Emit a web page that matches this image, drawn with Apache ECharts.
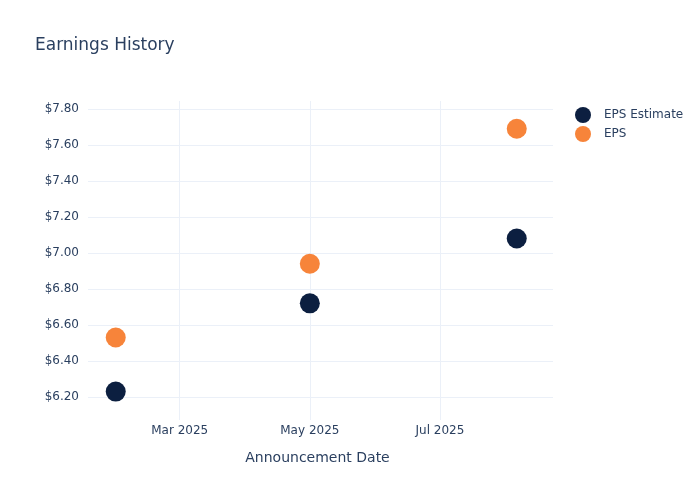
<!DOCTYPE html>
<html>
<head>
<meta charset="utf-8">
<script src="https://cdn.jsdelivr.net/npm/echarts@6/dist/echarts.min.js"></script>
<style>html,body{margin:0;padding:0;background:#fff}#c{width:700px;height:500px}</style>
</head>
<body>
<div id="c"></div>
<script>
const dates = ['2025-01-30', '2025-05-01', '2025-08-06'];
const epsEstimate = [6.23, 6.72, 7.08];
const eps = [6.53, 6.94, 7.69];
const xTicks = ['2025-03-01', '2025-05-01', '2025-07-01'];
const yTicks = [6.2, 6.4, 6.6, 6.8, 7.0, 7.2, 7.4, 7.6, 7.8];
const monthNames = ['Jan','Feb','Mar','Apr','May','Jun','Jul','Aug','Sep','Oct','Nov','Dec'];

const toTs = s => new Date(s + 'T00:00:00').getTime();
const font = 'DejaVu Sans, Open Sans, sans-serif';
const textColor = '#2a3f5f';
const gridColor = '#ebf0f8';

const chart = echarts.init(document.getElementById('c'), null, {renderer: 'canvas'});
chart.setOption({
  backgroundColor: '#fff',
  animation: false,
  title: {
    text: 'Earnings History',
    left: 30, top: 32,
    textStyle: {fontFamily: font, fontSize: 17, fontWeight: 'normal', color: textColor}
  },
  legend: {
    orient: 'vertical',
    left: 570, top: 102,
    itemWidth: 16, itemHeight: 16, itemGap: 3,
    icon: 'circle',
    textStyle: {fontFamily: font, fontSize: 12, color: textColor, padding: [0,0,0,8]},
    data: ['EPS Estimate', 'EPS']
  },
  grid: {left: 88, right: 147, top: 101, bottom: 80, containLabel: false},
  xAxis: {
    type: 'value',
    min: toTs('2025-01-17'),
    max: toTs('2025-08-23'),
    name: 'Announcement Date',
    nameLocation: 'middle',
    nameGap: 31,
    nameTextStyle: {fontFamily: font, fontSize: 14, color: textColor, padding: [0,6,0,0]},
    axisLine: {show: false},
    axisTick: {show: false, customValues: xTicks.map(toTs)},
    axisLabel: {
      customValues: xTicks.map(toTs),
      fontFamily: font, fontSize: 12, color: textColor, margin: 5,
      formatter: v => { const d = new Date(v); return monthNames[d.getMonth()] + ' ' + d.getFullYear(); }
    },
    splitLine: {show: true, lineStyle: {color: gridColor, width: 1}}
  },
  yAxis: {
    type: 'value',
    min: 6.072,
    max: 7.844,
    axisLine: {show: false},
    axisTick: {show: false, customValues: yTicks},
    axisLabel: {
      customValues: yTicks,
      fontFamily: font, fontSize: 12, color: textColor, margin: 9,
      formatter: v => '$' + v.toFixed(2)
    },
    splitLine: {show: true, lineStyle: {color: gridColor, width: 1}}
  },
  series: [
    {
      name: 'EPS Estimate', type: 'scatter', symbol: 'circle', symbolSize: 20,
      itemStyle: {color: '#0c1f40', opacity: 1},
      data: dates.map((d, i) => [toTs(d), epsEstimate[i]])
    },
    {
      name: 'EPS', type: 'scatter', symbol: 'circle', symbolSize: 20,
      itemStyle: {color: '#f7843a', opacity: 1},
      data: dates.map((d, i) => [toTs(d), eps[i]])
    }
  ]
});
</script>
</body>
</html>
